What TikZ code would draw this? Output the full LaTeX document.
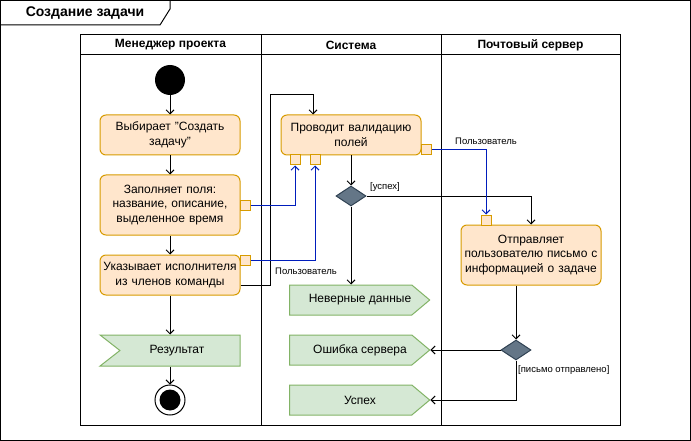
\documentclass[tikz,border=0pt]{standalone}
\usepackage{fontspec}
\setmainfont{Liberation Sans}
\usepackage{xcolor}
\usepackage{tikz}
\usetikzlibrary{shapes,shapes.symbols,arrows.meta,positioning,calc}
\definecolor{actfill}{HTML}{FFE6CC}
\definecolor{actline}{HTML}{D79B00}
\definecolor{sigfill}{HTML}{D5E8D4}
\definecolor{sigline}{HTML}{82B366}
\definecolor{decfill}{HTML}{647687}
\definecolor{decline}{HTML}{314354}
\definecolor{flowblue}{HTML}{001DBC}

\begin{document}
\begin{tikzpicture}[
	x=1pt,
	y=-1pt,
	font=\fontsize{12}{14.5}\selectfont,
	lanehead/.style={
		rectangle,
		draw,
		line width=1pt,
		minimum height=20pt,
		inner sep=0pt,
		font=\fontsize{12}{14}\selectfont\bfseries
	},
	lanebody/.style={
		rectangle,
		draw,
		line width=1pt,
		minimum height=370pt,
		inner sep=0pt
	},
	action/.style={
		rectangle,
		draw=actline,
		fill=actfill,
		line width=1pt,
		rounded corners=6pt,
		minimum width=140pt,
		text width=136pt,
		align=center,
		inner sep=0pt
	},
	pin/.style={
		rectangle,
		draw=actline,
		fill=actfill,
		line width=1pt,
		minimum size=10pt,
		inner sep=0pt
	},
	sendsig/.style={
		signal,
		signal to=east,
		signal pointer angle=80,
		draw=sigline,
		fill=sigfill,
		line width=1pt,
		minimum width=140pt,
		minimum height=30pt,
		inner sep=0pt
	},
	recvsig/.style={
		signal,
		signal from=west,
		signal to=nowhere,
		signal pointer angle=76,
		draw=sigline,
		fill=sigfill,
		line width=1pt,
		minimum width=140pt,
		minimum height=31pt,
		inner sep=0pt
	},
	decision/.style={
		diamond,
		draw=decline,
		fill=decfill,
		line width=1pt,
		minimum width=30pt,
		minimum height=20pt,
		inner sep=0pt
	},
	startnode/.style={circle, fill=black, minimum size=30pt, inner sep=0pt},
	endnode/.style={
		circle,
		draw,
		fill=white,
		line width=1pt,
		minimum size=30pt,
		inner sep=0pt,
		path picture={\fill[black] (path picture bounding box.center) circle (10.5pt);}
	},
	lbl/.style={font=\fontsize{9.5}{11}\selectfont, inner sep=1pt},
	arrow/.style={-{Straight Barb[length=4pt,width=8pt]}, line width=1pt},
	objflow/.style={arrow, draw=flowblue}
	]
	\useasboundingbox (0,0) rectangle (691,441);
	% Frame with its title tab
	\draw[line width=1pt] (0.5,0.5) rectangle (690.5,440.5);
	\draw[line width=1pt] (0.5,25) -- (160,25) -- (170,9) -- (170,0.5);
	\node[font=\fontsize{14}{16}\selectfont\bfseries] (title) at (85,13) {Создание задачи};
	% Swimlanes
	\node[lanehead, minimum width=181pt] (mgrhead) at (170.5,45) {Менеджер проекта};
	\node[lanehead, minimum width=180pt] (syshead) at (351,45) {Система};
	\node[lanehead, minimum width=179pt] (mailhead) at (530.5,45) {Почтовый сервер};
	\node[lanebody, minimum width=181pt] (mgrlane) at (170.5,240) {};
	\node[lanebody, minimum width=180pt] (syslane) at (351,240) {};
	\node[lanebody, minimum width=179pt] (maillane) at (530.5,240) {};
	% Project manager lane
	\node[startnode] (start) at (170,80) {};
	\node[action, minimum height=40pt] (choose) at (170,135) {Выбирает "Создать\\задачу"};
	\node[action, minimum height=60pt] (fillin) at (170,205) {Заполняет поля:\\название, описание,\\выделенное время};
	\node[action, minimum height=40pt] (assign) at (170,275) {Указывает исполнителя\\из членов команды};
	\node[pin] (fillpin) at (245,205) {};
	\node[pin] (assignpin) at (245,260) {};
	\node[recvsig] (result) at (180,350.5) {Результат\hspace*{6pt}};
	\node[endnode] (finish) at (170,400) {};
	% System lane
	\node[action, minimum height=40pt] (validate) at (351,135) {Проводит валидацию\\полей};
	\node[pin] (valpinA) at (295,160) {};
	\node[pin] (valpinB) at (315,160) {};
	\node[pin] (valpinR) at (426,150) {};
	\node[decision] (okcheck) at (351,196) {};
	\node[sendsig] (wrongdata) at (350.75,300) {\hspace*{18.5pt}Неверные данные};
	\node[sendsig] (servererr) at (350.75,350) {\hspace*{18.5pt}Ошибка сервера};
	\node[sendsig] (success) at (350.75,400) {\hspace*{18.5pt}Успех};
	% Mail server lane
	\node[action, minimum height=60pt] (sendmail) at (531,255) {Отправляет\\пользователю письмо с\\информацией о задаче};
	\node[pin] (sendpin) at (486,220) {};
	\node[decision] (sentcheck) at (516,350) {};
	% Labels
	\node[lbl] (userA) at (306,271) {Пользователь};
	\node[lbl] (userB) at (486,141) {Пользователь};
	\node[lbl, anchor=west] (okguard) at (369,187) {[успех]};
	\node[lbl, anchor=west] (sentguard) at (517,370) {[письмо отправлено]};
	% Control flow
	\draw[arrow] (start) -- (choose);
	\draw[arrow] (choose) -- (fillin);
	\draw[arrow] (fillin) -- (assign);
	\draw[arrow] (assign) -- (assign |- result.north);
	\draw[arrow] (finish |- result.south) -- (finish);
	\draw[arrow] ([yshift=-10pt]assign.east) -- ++(30,0) |- ([xshift=-38pt,yshift=20pt]validate.north) -- ([xshift=-38pt]validate.north);
	\draw[arrow] (validate) -- (okcheck);
	\draw[arrow] (okcheck.east) -| (sendmail.north);
	\draw[arrow] (okcheck.south) -- (okcheck.south |- wrongdata.north);
	\draw[arrow] (sentcheck.north |- sendmail.south) -- (sentcheck.north);
	\draw[arrow] (sentcheck.west) -- (servererr.east);
	\draw[arrow] (sentcheck.south) |- (success.east);
	% Object flow
	\draw[objflow] (fillpin.east) -| (valpinA.south);
	\draw[objflow] (assignpin.east) -| (valpinB.south);
	\draw[objflow] (valpinR.east) -| (sendpin.north);
\end{tikzpicture}
\end{document}
